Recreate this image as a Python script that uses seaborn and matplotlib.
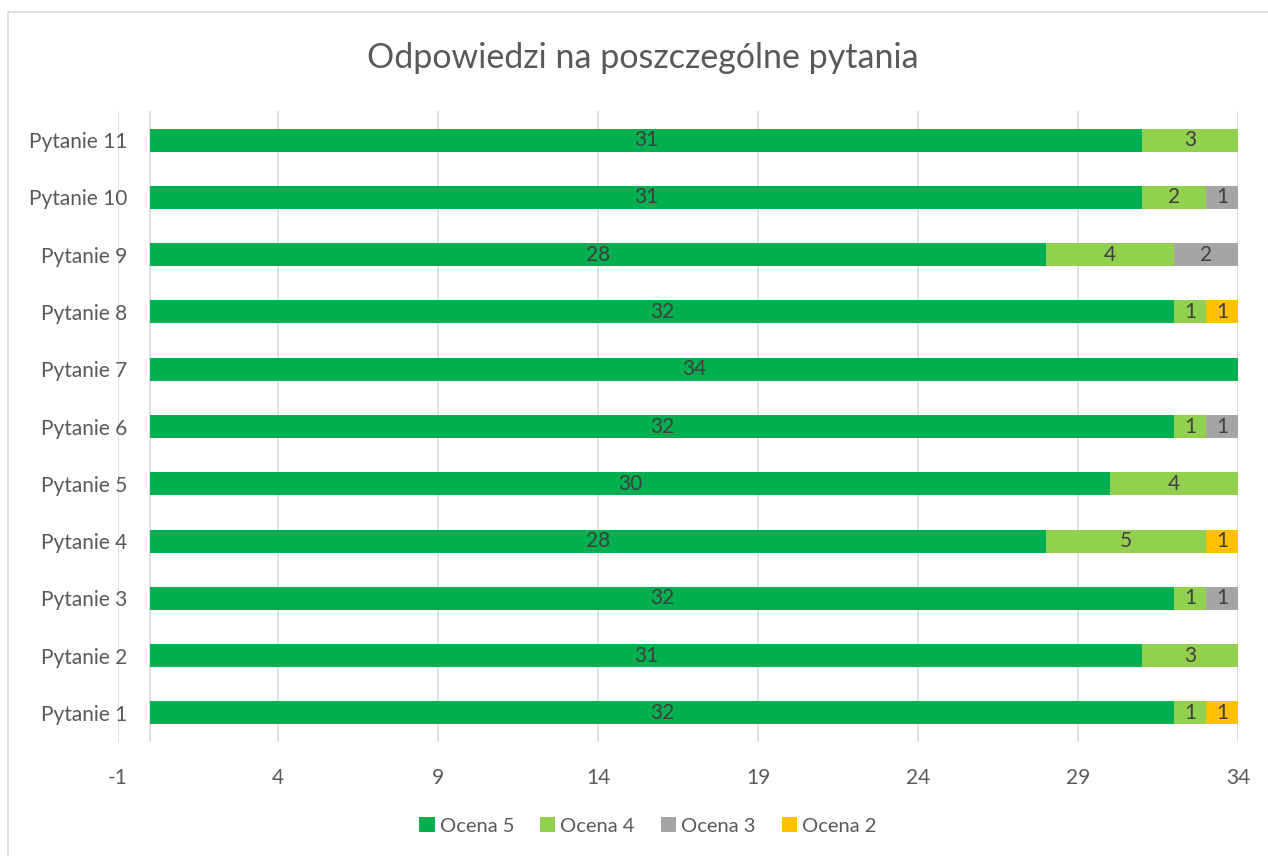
import matplotlib
matplotlib.use("Agg")
import matplotlib.pyplot as plt
from matplotlib.patches import Patch, Rectangle
import seaborn as sns
import numpy as np

# data
questions = [f"Pytanie {i}" for i in range(1, 12)]
ocena5 = [32, 31, 32, 28, 30, 32, 34, 32, 28, 31, 31]
ocena4 = [1, 3, 1, 5, 4, 1, 0, 1, 4, 2, 3]
ocena3 = [0, 0, 1, 0, 0, 1, 0, 0, 2, 1, 0]
ocena2 = [1, 0, 0, 1, 0, 0, 0, 1, 0, 0, 0]
series_names = ["Ocena 5", "Ocena 4", "Ocena 3", "Ocena 2"]
x_ticks = [-1, 4, 9, 14, 19, 24, 29, 34]

colors = ["#00B050", "#92D050", "#A5A5A5", "#FFC000"]
text_col = "#595959"

sns.set_theme(style="white")
plt.rcParams["font.family"] = ["Lato", "DejaVu Sans"]

W, H = 1268, 856
fig = plt.figure(figsize=(W / 100, H / 100), dpi=100)
ax = fig.add_axes([118 / W, 1 - 741.6 / H, 1120 / W, 630.2 / H])

# chart border
fig.patches.append(Rectangle((8 / W, -0.05), 1.2, 1 - 12 / H + 0.05,
                             transform=fig.transFigure, fill=False,
                             ec="#D9D9D9", lw=1.2))

series = [ocena5, ocena4, ocena3, ocena2]
order = questions[::-1]  # top row is Pytanie 11
cum = np.cumsum(np.array(series), axis=0)

# stacked bars: draw cumulative totals from longest to shortest
for i in range(len(series) - 1, -1, -1):
    sns.barplot(x=cum[i], y=questions, order=order, color=colors[i],
                saturation=1, width=0.4, ax=ax, orient="h",
                edgecolor="none", linewidth=0)

# segment labels
for i, vals in enumerate(series):
    starts = cum[i] - np.array(vals)
    for q, v, s in zip(questions, vals, starts):
        if v == 0:
            continue
        ax.text(s + v / 2, order.index(q), str(v), ha="center", va="center",
                fontsize=15, color="#404040")

ax.set_xlim(-1, 34)
ax.set_ylim(10.5, -0.5)
ax.set_xticks(x_ticks)
ax.set_xticklabels([str(t) for t in x_ticks])
ax.set_xlabel("")
ax.set_ylabel("")
ax.grid(axis="x", color="#D9D9D9", lw=1.1)
ax.axvline(0, color="#D9D9D9", lw=1.1, zorder=0)
ax.set_axisbelow(True)
for sp in ax.spines.values():
    sp.set_visible(False)
ax.tick_params(axis="both", length=0, labelsize=15, colors=text_col)
ax.tick_params(axis="x", pad=19)
ax.tick_params(axis="y", pad=-6.5)

fig.text(643 / W, 1 - 58 / H, "Odpowiedzi na poszczególne pytania",
         ha="center", va="center", fontsize=24.5, color=text_col)

handles = [Patch(facecolor=c, edgecolor="none", label=n)
           for c, n in zip(colors, series_names)]
fig.legend(handles=handles, loc="center", bbox_to_anchor=(648 / W, 1 - 826 / H),
           ncol=4, frameon=False, fontsize=14.5, labelcolor=text_col,
           handlelength=0.75, handleheight=0.75, handletextpad=0.25,
           columnspacing=1.3)

fig.savefig("out.png", dpi=100)
